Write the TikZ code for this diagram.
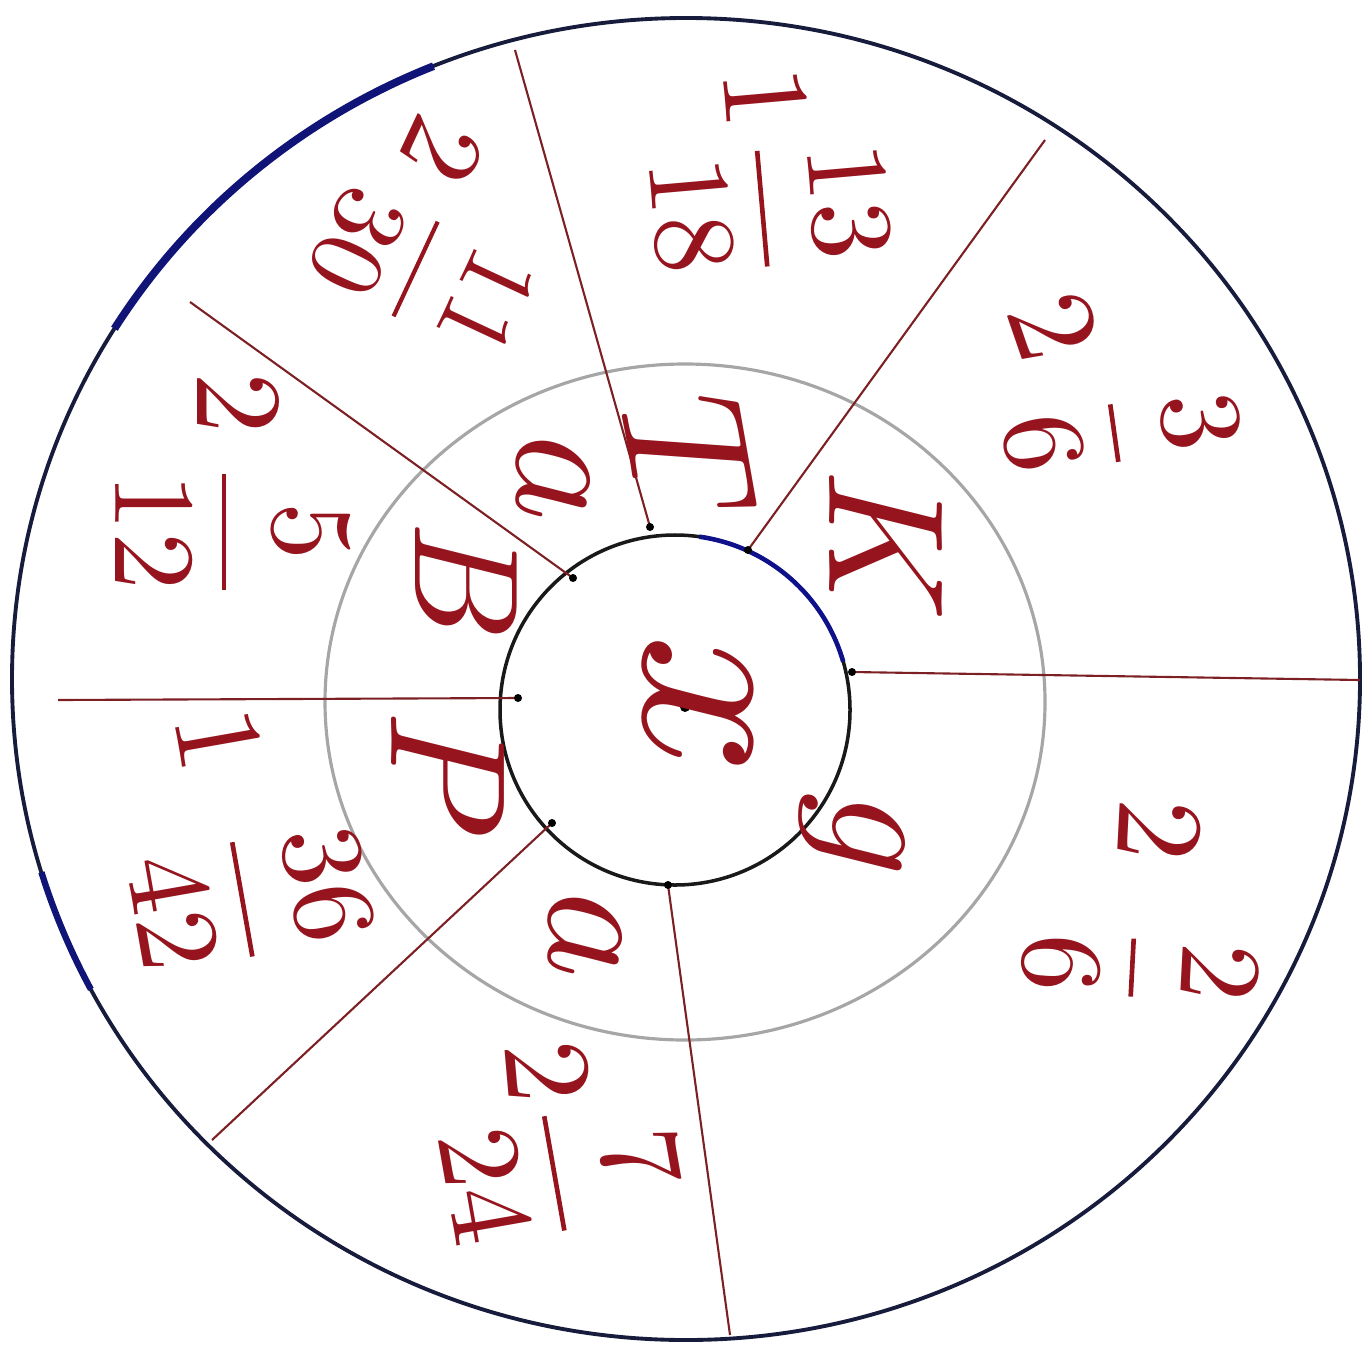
\documentclass[tikz,border=0pt]{standalone}
\usepackage{amsmath}
\usepackage{tikz}
\usetikzlibrary{positioning}

\definecolor{inkred}{RGB}{150,20,30}
\definecolor{spokered}{RGB}{125,32,36}
\definecolor{rimblue}{RGB}{24,28,60}

\begin{document}
\begin{tikzpicture}[x=0.01cm, y=-0.01cm,
  rim/.style={draw=rimblue, line width=1.1pt},
  hub/.style={draw=black!90, line width=1pt},
  ring/.style={draw=black!35, line width=0.9pt},
  spoke/.style={draw=spokered, line width=0.6pt},
  whole/.style={text=inkred, scale=3.5, inner sep=0pt},
  frac/.style={text=inkred, scale=3.3, inner sep=0pt},
  letter/.style={text=inkred, scale=4.7, inner sep=0pt}]

        % page size of the reference
        \useasboundingbox (0,0) rectangle (1368,1349);

        % Draw the outer rim, the grey ring and the hub
        \draw[rim] (686,679) ellipse [x radius=674, y radius=661];
        \draw[rimblue!70!blue, line width=2.2pt] (686,679) ++(-148:674 and 661) arc [start angle=-148, end angle=-112, x radius=674, y radius=661];
        \draw[rimblue!70!blue, line width=1.8pt] (686,679) ++(163:674 and 661) arc [start angle=163, end angle=152, x radius=674, y radius=661];
        \draw[ring] (685,702) ellipse [x radius=360, y radius=338];
        \draw[hub] (675,710) circle [radius=175];
        \draw[rimblue!60!blue, line width=1.3pt] (675,710) ++(-82:175) arc [start angle=-82, end angle=-16, radius=175];

        % inner and outer ends of the seven spokes
        \coordinate (i1) at (852,672);  \coordinate (o1) at (1360,680);
        \coordinate (i2) at (748,550);  \coordinate (o2) at (1045,140);
        \coordinate (i3) at (650,527);  \coordinate (o3) at (515,50);
        \coordinate (i4) at (573,578);  \coordinate (o4) at (190,302);
        \coordinate (i5) at (518,698);  \coordinate (o5) at (58,700);
        \coordinate (i6) at (552,823);  \coordinate (o6) at (212,1140);
        \coordinate (i7) at (668,885);  \coordinate (o7) at (730,1335);

        % Draw the spokes from the hub to the rim
        \foreach \i in {1,...,7}
        {
          \draw[spoke] (i\i) -- (o\i);
          \fill[black] (i\i) circle [radius=4];
        }
        \fill[black] (685,707) circle [radius=5];

        % letters round the hub
        \node[letter, scale=1.5, rotate=-90] (x) at (698,705) {$x$};
        \node[letter, scale=1.05, rotate=-80] (T) at (690,458) {$T$};
        \node[letter, rotate=-90] (K) at (886,546) {$K$};
        \node[letter, rotate=-90] (g) at (852,835) {$g$};
        \node[letter, rotate=-90] (a2) at (585,935) {$a$};
        \node[letter, rotate=-90] (P) at (448,775) {$P$};
        \node[letter, scale=0.9, rotate=-90] (B) at (466,582) {$B$};
        \node[letter, rotate=-90] (a1) at (553,478) {$a$};

        % mixed numbers in the outer ring
        \node[whole, rotate=-85] (w1) at (765,98) {$1$};
        \node[frac, rotate=-85] (f1) at (770,208) {$\dfrac{13}{18}$};
        \node[whole, rotate=-71] (w2) at (1053,327) {$2$};
        \node[frac, rotate=-82] (f2) at (1122,432) {$\dfrac{3}{6}$};
        \node[whole, rotate=-93] (w3) at (1158,830) {$2$};
        \node[frac, rotate=-93] (f3) at (1140,968) {$\dfrac{2}{6}$};
        \node[whole, rotate=-85] (w4) at (547,1072) {$2$};
        \node[frac, rotate=-80] (f4) at (562,1172) {$\dfrac{7}{24}$};
        \node[whole, rotate=-80] (w5) at (218,740) {$1$};
        \node[frac, rotate=-80] (f5) at (250,898) {$\dfrac{36}{42}$};
        \node[whole, rotate=-90] (w6) at (237,403) {$2$};
        \node[frac, rotate=-90] (f6) at (232,532) {$\dfrac{5}{12}$};
        \node[whole, scale=0.92, rotate=-115] (w7) at (442,150) {$2$};
        \node[frac, scale=0.9, rotate=-115] (f7) at (422,272) {$\dfrac{11}{30}$};
      \end{tikzpicture}
\end{document}
